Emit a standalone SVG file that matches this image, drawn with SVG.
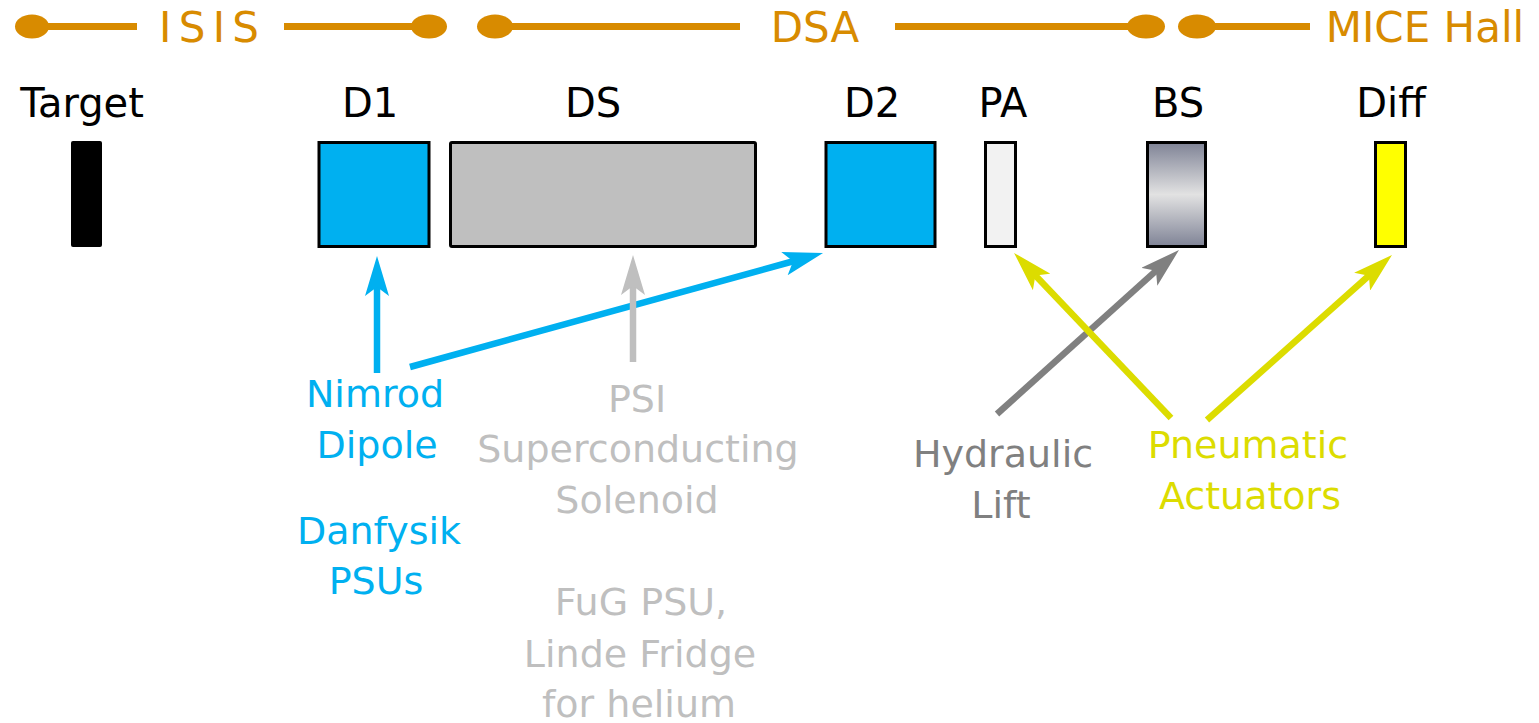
<svg xmlns="http://www.w3.org/2000/svg" width="1539" height="723" viewBox="0 0 1539 723">
<style>
text{font-family:"DejaVu Sans","Liberation Sans",sans-serif;text-anchor:middle}
.hdr{font-size:42px;fill:#D88B00}
.lbl{font-size:40px;fill:#000}
.t{font-size:38px}
.blue{fill:#00B0F0}.lgray{fill:#BFBFBF}.dgray{fill:#808080}.yel{fill:#DCDC00}
.bar{stroke:#D88B00;stroke-width:7;fill:none}
.dot{fill:#D88B00}
.box{stroke:#000;stroke-width:3}
.arr{fill:none;stroke-width:6.5}
</style>
<defs>
<linearGradient id="bsg" x1="0" y1="0" x2="0" y2="1">
<stop offset="0" stop-color="#7F8396"/>
<stop offset="0.5" stop-color="#E2E2E2"/>
<stop offset="1" stop-color="#7F8396"/>
</linearGradient>
<marker id="hBlue" markerUnits="userSpaceOnUse" markerWidth="40" markerHeight="24" refX="10" refY="12" orient="auto" viewBox="0 0 40 24"><path d="M0,0 L40,12 L0,24 L9,12 Z" fill="#00B0F0"/></marker>
<marker id="hLGray" markerUnits="userSpaceOnUse" markerWidth="40" markerHeight="24" refX="10" refY="12" orient="auto" viewBox="0 0 40 24"><path d="M0,0 L40,12 L0,24 L9,12 Z" fill="#BFBFBF"/></marker>
<marker id="hDGray" markerUnits="userSpaceOnUse" markerWidth="40" markerHeight="24" refX="10" refY="12" orient="auto" viewBox="0 0 40 24"><path d="M0,0 L40,12 L0,24 L9,12 Z" fill="#808080"/></marker>
<marker id="hYel" markerUnits="userSpaceOnUse" markerWidth="40" markerHeight="24" refX="10" refY="12" orient="auto" viewBox="0 0 40 24"><path d="M0,0 L40,12 L0,24 L9,12 Z" fill="#DCDC00"/></marker>
</defs>
<rect width="1539" height="723" fill="#fff"/>
<g id="header">
<line class="bar" x1="33" y1="26.5" x2="137" y2="26.5"/>
<ellipse class="dot" cx="32" cy="26.5" rx="17" ry="12"/>
<text class="hdr" x="209" y="42" textLength="100" lengthAdjust="spacing">ISIS</text>
<line class="bar" x1="284" y1="26.5" x2="429" y2="26.5"/>
<ellipse class="dot" cx="429" cy="26.5" rx="18" ry="12"/>
<line class="bar" x1="495" y1="26.5" x2="740" y2="26.5"/>
<ellipse class="dot" cx="495" cy="26.5" rx="18" ry="12"/>
<text class="hdr" x="815" y="42">DSA</text>
<line class="bar" x1="895" y1="26.5" x2="1146" y2="26.5"/>
<ellipse class="dot" cx="1146" cy="26.5" rx="19" ry="12"/>
<line class="bar" x1="1197" y1="26.5" x2="1310" y2="26.5"/>
<ellipse class="dot" cx="1197" cy="26.5" rx="19" ry="12"/>
<text class="hdr" x="1425" y="42">MICE Hall</text>
</g>
<g id="target"><text class="lbl" x="82" y="117">Target</text><rect x="71" y="141" width="31" height="106" rx="2" fill="#000"/></g>
<g id="d1"><text class="lbl" x="370" y="117">D1</text><rect class="box" x="319" y="142.5" width="110" height="104" fill="#00B0F0"/></g>
<g id="ds"><text class="lbl" x="593" y="117">DS</text><rect class="box" x="450.5" y="142.5" width="305" height="104" rx="1.5" fill="#BFBFBF"/></g>
<g id="d2"><text class="lbl" x="872" y="117">D2</text><rect class="box" x="826" y="142.5" width="109" height="104" fill="#00B0F0"/></g>
<g id="pa"><text class="lbl" x="1003" y="117">PA</text><rect class="box" x="985.5" y="142.5" width="30" height="104" fill="#F2F2F2"/></g>
<g id="bs"><text class="lbl" x="1178" y="117">BS</text><rect class="box" x="1147.5" y="142.5" width="58" height="104" fill="url(#bsg)"/></g>
<g id="diff"><text class="lbl" x="1391" y="117">Diff</text><rect class="box" x="1375.5" y="142.5" width="30" height="104" fill="#FFFF00"/></g>
<g id="connectors">
<line class="arr" x1="377" y1="373" x2="377" y2="286" stroke="#00B0F0" marker-end="url(#hBlue)"/>
<line class="arr" x1="410" y1="367" x2="794.1" y2="261" stroke="#00B0F0" marker-end="url(#hBlue)"/>
<line class="arr" x1="633" y1="362" x2="633" y2="285" stroke="#BFBFBF" marker-end="url(#hLGray)"/>
<line class="arr" x1="997" y1="414" x2="1156.7" y2="270.1" stroke="#808080" marker-end="url(#hDGray)"/>
<line class="arr" x1="1171" y1="418" x2="1034.7" y2="274.7" stroke="#DCDC00" marker-end="url(#hYel)"/>
<line class="arr" x1="1207" y1="420" x2="1369.6" y2="275" stroke="#DCDC00" marker-end="url(#hYel)"/>
</g>
<g id="nimrod"><text class="t blue" x="375" y="407">Nimrod</text><text class="t blue" x="377" y="458">Dipole</text></g>
<g id="danfysik"><text class="t blue" x="379" y="544">Danfysik</text><text class="t blue" x="376" y="594">PSUs</text></g>
<g id="psi"><text class="t lgray" x="637" y="412">PSI</text><text class="t lgray" x="638" y="462">Superconducting</text><text class="t lgray" x="637" y="513">Solenoid</text></g>
<g id="fug"><text class="t lgray" x="641" y="615">FuG PSU,</text><text class="t lgray" x="640" y="667">Linde Fridge</text><text class="t lgray" x="639" y="717">for helium</text></g>
<g id="hydraulic"><text class="t dgray" x="1003" y="467">Hydraulic</text><text class="t dgray" x="1001" y="518">Lift</text></g>
<g id="pneumatic"><text class="t yel" x="1248" y="458">Pneumatic</text><text class="t yel" x="1250" y="509">Actuators</text></g>
</svg>
